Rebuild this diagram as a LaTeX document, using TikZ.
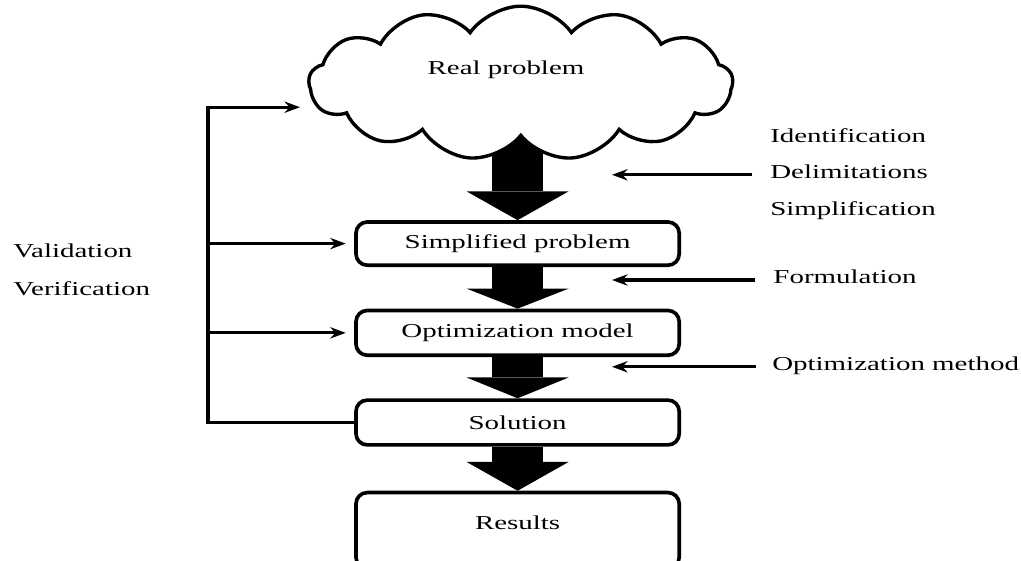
\documentclass[tikz,border=0pt]{standalone}
\usepackage{fontspec}
\setmainfont[FakeStretch=1.47]{Liberation Serif}
\usetikzlibrary{arrows.meta,positioning,shapes.symbols,backgrounds}
\tikzstyle{block} = [rectangle, draw, line width=2.6pt, fill=white,
    rounded corners=8pt, minimum width=8.08cm, minimum height=1.12cm]

\begin{document}
\begin{tikzpicture}[font=\fontsize{14}{17}\selectfont,
                    lbl/.style={inner sep=0pt, anchor=mid west},
                    thin/.style={line width=2.3pt, -{Stealth[length=11pt,width=8pt]}},
                    fat/.style={line width=1.28cm, -{Triangle[length=#1,width=2.55cm,line width=0pt]}},
                    fat/.default=0.72cm]
  \useasboundingbox (0,0) rectangle (25.525,-14);
  \node[cloud, draw, line width=2.4pt, fill=white, cloud puffs=13, cloud puff arc=110,
        aspect=3, minimum width=10.6cm, minimum height=3.85cm] (real) at (13.02,-2.08) {};
  \node (rtxt) at (12.65,-1.75) {Real problem};
  \node[block, minimum height=1.08cm] (simp) at (12.94,-6.09) {Simplified problem};
  \node[block, below=1.04cm of simp] (optm) {Optimization model};
  \node[block, below=1.03cm of optm] (sol) {Solution};
  \node[block, below=1.1cm of sol, minimum height=1.9cm, text depth=0.4cm] (res) {Results};

  \node[lbl] (idn) at (19.25,-3.47) {Identification};
  \node[lbl] (dlm) at (19.25,-4.37) {Delimitations};
  \node[lbl] (smp) at (19.25,-5.3) {Simplification};
  \node[lbl] (form) at (19.33,-7.0) {Formulation};
  \node[lbl] (meth) at (19.3,-9.17) {Optimization method};
  \node[lbl] (valid) at (0.33,-6.35) {Validation};
  \node[lbl] (verif) at (0.33,-7.3) {Verification};

  \coordinate (back) at (5.2,-2.68);
  \coordinate (cin) at (7.5,-2.68);
  \coordinate (tipx) at (15.3,0);

  % big arrows behind the boxes
  \begin{scope}[on background layer]
    \draw[fat] ([yshift=5mm]simp.north |- real.south) -- (simp.north);
    \draw[fat=0.5cm] (simp.south) -- (optm.north);
    \draw[fat=0.52cm] (optm.south) -- (sol.north);
    \draw[fat] (sol.south) -- (res.north);
  \end{scope}

  % feedback
  \draw[thin] (sol.west) -| (back) -- (cin);
  \draw[thin, shorten >=6pt] (back |- simp.west) -- (simp.west);
  \draw[thin, shorten >=6pt] (back |- optm.west) -- (optm.west);

  \draw[thin] ([xshift=-0.45cm]dlm.mid west) -- (dlm.mid west -| tipx);
  \draw[thin] ([xshift=-0.45cm]form.mid west) -- (form.mid west -| tipx);
  \draw[thin] ([xshift=-0.4cm]meth.mid west) -- (meth.mid west -| tipx);
\end{tikzpicture}
\end{document}
